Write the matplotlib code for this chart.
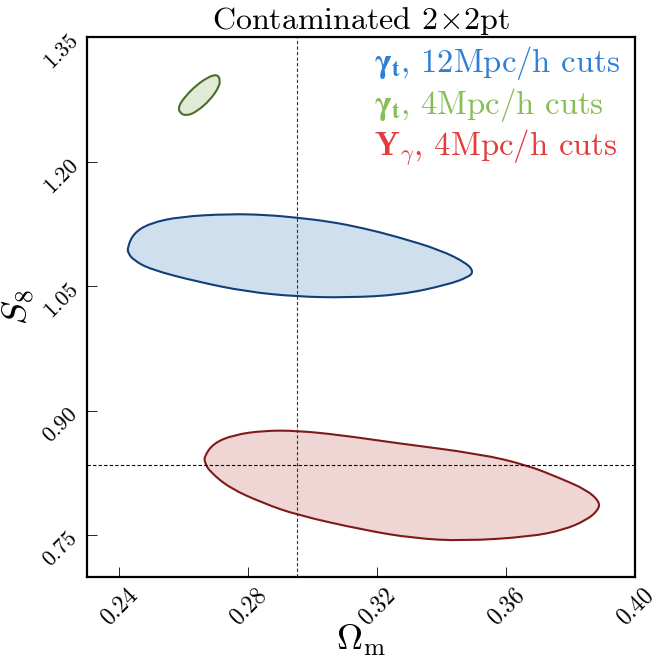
import matplotlib
matplotlib.use("Agg")
import matplotlib.pyplot as plt
from matplotlib.path import Path
from matplotlib.patches import PathPatch
import numpy as np

plt.rcParams['font.family'] = 'cmr10'
plt.rcParams['mathtext.fontset'] = 'cm'
plt.rcParams['axes.formatter.use_mathtext'] = True

# contour outlines (Omega_m, S8)
blue_x = [0.2425, 0.2444, 0.2495, 0.2588, 0.2743, 0.2857, 0.2950, 0.3054, 0.3157, 0.3260,
          0.3395, 0.3477, 0.3498, 0.3482, 0.3415, 0.3271, 0.3105, 0.2950, 0.2795, 0.2640,
          0.2495, 0.2444, 0.2428]
blue_y = [1.0959, 1.1139, 1.1260, 1.1339, 1.1372, 1.1360, 1.1327, 1.1279, 1.1200, 1.1098,
          1.0938, 1.0778, 1.0676, 1.0609, 1.0516, 1.0396, 1.0363, 1.0375, 1.0435, 1.0556,
          1.0705, 1.0817, 1.0898]

red_x = [0.2663, 0.2692, 0.2754, 0.2847, 0.2950, 0.3084, 0.3250, 0.3519, 0.3663, 0.3767,
         0.3849, 0.3889, 0.3885, 0.3849, 0.3777, 0.3674, 0.3467, 0.3312, 0.3157, 0.2950,
         0.2847, 0.2743, 0.2681, 0.2666]
red_y = [0.8446, 0.8608, 0.8708, 0.8760, 0.8760, 0.8708, 0.8615, 0.8479, 0.8346, 0.8186,
         0.8045, 0.7904, 0.7804, 0.7683, 0.7563, 0.7482, 0.7430, 0.7463, 0.7563, 0.7744,
         0.7885, 0.8066, 0.8266, 0.8367]

green_x = [0.2707, 0.2712, 0.2710, 0.2681, 0.2640, 0.2609, 0.2588, 0.2583, 0.2604, 0.2640,
           0.2676, 0.2697]
green_y = [1.3035, 1.2987, 1.2906, 1.2741, 1.2605, 1.2553, 1.2586, 1.2665, 1.2786, 1.2927,
           1.3020, 1.3048]

fid_om = 0.295
fid_s8 = 0.834

xticks = [0.24, 0.28, 0.32, 0.36, 0.40]
yticks = [0.75, 0.90, 1.05, 1.20, 1.35]

legend_labels = [r"$\mathbf{\gamma}_\mathbf{t}$, 12Mpc/h cuts",
                 r"$\mathbf{\gamma}_\mathbf{t}$, 4Mpc/h cuts",
                 r"$\mathbf{Y}_\gamma$, 4Mpc/h cuts"]

fig = plt.figure(figsize=(6.64, 6.64), dpi=100)
ax = fig.add_axes([0.131, 0.1315, 0.826, 0.8123])


def smooth_path(xs, ys):
    # closed quadratic-Bezier outline using the read vertices as control points
    pts = np.column_stack([xs, ys])
    n = len(pts)
    mids = (pts + np.roll(pts, -1, axis=0)) / 2.0
    verts = [mids[-1]]
    codes = [Path.MOVETO]
    for i in range(n):
        verts += [pts[i], mids[i]]
        codes += [Path.CURVE3, Path.CURVE3]
    return Path(verts, codes)


def draw(xs, ys, fc, ec):
    p = smooth_path(xs, ys)
    ax.add_patch(PathPatch(p, facecolor=fc, edgecolor='none', zorder=2))
    ax.add_patch(PathPatch(p, facecolor='none', edgecolor=ec, lw=1.5, zorder=3))


draw(blue_x, blue_y, '#d0dfee', '#123f78')
draw(red_x, red_y, '#f0d5d5', '#7e1a1a')
draw(green_x, green_y, '#e0ead6', '#4b6e2a')

ax.axvline(fid_om, color='#333333', lw=0.8, ls=(0, (3, 2)), zorder=4)
ax.axhline(fid_s8, color='black', lw=0.8, ls=(0, (3, 2)), zorder=4)

ax.set_xlim(0.23, 0.40)
ax.set_ylim(0.70, 1.35)
ax.set_xticks(xticks)
ax.set_yticks(yticks)
ax.set_xticklabels(["%.2f" % v for v in xticks], rotation=45, fontsize=17)
ax.set_yticklabels(["%.2f" % v for v in yticks], rotation=45, fontsize=16,
                   rotation_mode='anchor', ha='right', va='center')
ax.tick_params(direction='in', length=7, width=0.6, top=False, right=False)
ax.tick_params(axis='x', pad=5)
ax.tick_params(axis='y', pad=9)
for s in ax.spines.values():
    s.set_linewidth(1.6)

ax.set_xlabel(r"$\Omega_\mathrm{m}$", fontsize=26, labelpad=-4)
ax.set_ylabel(r"$S_8$", fontsize=26, labelpad=2)
ax.set_title(r"Contaminated $2\!\times\!2$pt", fontsize=23, pad=3)

cols = ['#2f7fd6', '#86be55', '#e23c3c']
ys_leg = [0.935, 0.858, 0.782]
for lab, c, yy, mf in zip(legend_labels, cols, ys_leg, ['stix', 'stix', 'cm']):
    ax.text(0.523, yy, lab, color=c, fontsize=23.5, transform=ax.transAxes,
            ha='left', va='baseline', math_fontfamily=mf)

fig.savefig("out.png", dpi=100)
